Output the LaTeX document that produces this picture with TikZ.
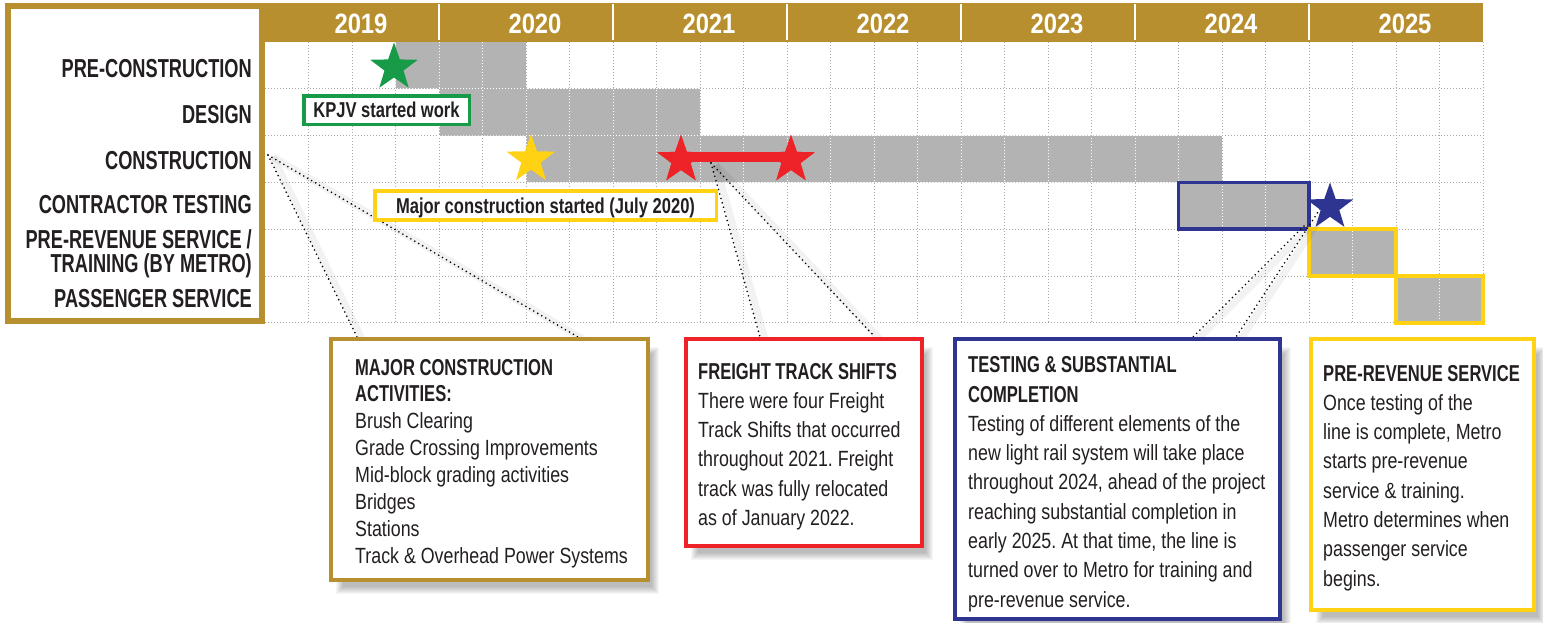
\documentclass[tikz,border=0pt]{standalone}
\usepackage{fontspec}
\setmainfont{Liberation Sans}
\newfontfamily\fA{Liberation Sans}[FakeStretch=0.72]
\newfontfamily\fR{Liberation Sans}[FakeStretch=0.70]
\newfontfamily\fY{Liberation Sans}[FakeStretch=0.85]
\newfontfamily\fK{Liberation Sans}[FakeStretch=0.77]
\newfontfamily\fB{Liberation Sans}[FakeStretch=0.81]
\frenchspacing
\usetikzlibrary{shapes.geometric,calc}
\definecolor{gold}{RGB}{184,143,46}
\definecolor{bargray}{RGB}{179,179,179}
\definecolor{gridgray}{RGB}{170,170,170}
\definecolor{kgreen}{RGB}{24,155,72}
\definecolor{kyellow}{RGB}{255,210,20}
\definecolor{kred}{RGB}{237,35,39}
\definecolor{kblue}{RGB}{46,52,146}
\definecolor{ink}{RGB}{35,31,32}
\newcommand\fuzzshadow[4]{%
  \foreach \k in {-4,...,3}{%
    \fill[black,opacity=0.035] ({#1+8-\k},{#2+11-\k}) rectangle ({#3+8+\k},{#4+11+\k});}}
\tikzset{
  rowlab/.style={anchor=base east, inner sep=0pt, text=ink, text height=19pt, text depth=0pt, font=\fR\bfseries\fontsize{26}{28}\selectfont},
  yearlab/.style={anchor=base, inner sep=0pt, text=white, font=\fY\bfseries\fontsize{28}{30}\selectfont},
  gridline/.style={draw=gridgray, line width=1pt, dash pattern=on 1pt off 2pt},
  gridwhite/.style={draw=white, line width=1pt, dash pattern=on 1pt off 2pt},
  starshape/.style={star, star points=5, star point ratio=2.5, inner sep=0pt, outer sep=0pt, draw=none},
  tagbox/.style={line width=3.5pt, fill=white, inner sep=0pt, text=ink, text height=15.4pt, text depth=0pt, font=\fK\bfseries\fontsize{21.5}{24}\selectfont},
  notebox/.style={line width=4pt, fill=white, inner sep=0pt},
  headtxt/.style={anchor=base west, inner sep=0pt, text=ink, font=\fA\bfseries\fontsize{23}{26}\selectfont},
  bodytxt/.style={anchor=base west, inner sep=0pt, text=ink, font=\fB\fontsize{22}{26}\selectfont},
  leaderline/.style={draw=black, line width=1.8pt, dash pattern=on 0pt off 4.6pt, line cap=round},
  leadershade/.style={draw=black, opacity=0.05, line width=7pt},
}
\begin{document}
\begin{tikzpicture}[x=1pt,y=-1pt]
\useasboundingbox (0,0) rectangle (1543,622);
\fill[white] (0,0) rectangle (1543,622);
\def\xo{265}\def\w{43.5}\def\yo{42}\def\h{46.8}
% bars
\fill[bargray] ({\xo+3*\w},{\yo}) rectangle ({\xo+6*\w},{\yo+\h});
\fill[bargray] ({\xo+4*\w},{\yo+\h}) rectangle ({\xo+10*\w},{\yo+2*\h});
\fill[bargray] ({\xo+6*\w},{\yo+2*\h}) rectangle ({\xo+22*\w},{\yo+3*\h});
\fill[bargray] ({\xo+21*\w},{\yo+3*\h}) rectangle ({\xo+24*\w},{\yo+4*\h});
\fill[bargray] ({\xo+24*\w},{\yo+4*\h}) rectangle ({\xo+26*\w},{\yo+5*\h});
\fill[bargray] ({\xo+26*\w},{\yo+5*\h}) rectangle ({\xo+28*\w},{\yo+6*\h});
% grid
\foreach \i in {1,...,28} \draw[gridline] ({\xo+\i*\w},\yo) -- ({\xo+\i*\w},{\yo+6*\h});
\foreach \j in {1,...,6} \draw[gridline] (\xo,{\yo+\j*\h}) -- ({\xo+28*\w},{\yo+\j*\h});
\begin{scope}
\clip ({\xo+3*\w},{\yo}) rectangle ({\xo+6*\w},{\yo+\h})
      ({\xo+4*\w},{\yo+\h}) rectangle ({\xo+10*\w},{\yo+2*\h})
      ({\xo+6*\w},{\yo+2*\h}) rectangle ({\xo+22*\w},{\yo+3*\h})
      ({\xo+21*\w},{\yo+3*\h}) rectangle ({\xo+24*\w},{\yo+4*\h})
      ({\xo+24*\w},{\yo+4*\h}) rectangle ({\xo+26*\w},{\yo+5*\h})
      ({\xo+26*\w},{\yo+5*\h}) rectangle ({\xo+28*\w},{\yo+6*\h});
\foreach \i in {1,...,28} \draw[gridwhite] ({\xo+\i*\w},\yo) -- ({\xo+\i*\w},{\yo+6*\h});
\foreach \j in {1,...,6} \draw[gridwhite] (\xo,{\yo+\j*\h}) -- ({\xo+28*\w},{\yo+\j*\h});
\end{scope}
% highlighted bar frames
\draw[kblue, line width=3.5pt] ({\xo+21*\w},{\yo+3*\h}) rectangle ({\xo+24*\w},{\yo+4*\h});
\draw[kyellow, line width=3.5pt] ({\xo+24*\w},{\yo+4*\h}) rectangle ({\xo+26*\w},{\yo+5*\h});
\draw[kyellow, line width=3.5pt] ({\xo+26*\w},{\yo+5*\h}) rectangle ({\xo+28*\w},{\yo+6*\h});
% header and label frame
\fill[gold] (262,3) rectangle ({\xo+28*\w},\yo);
\foreach \i in {1,...,6} \draw[white, line width=1.3pt] ({\xo+\i*4*\w},4) -- ({\xo+\i*4*\w},40);
\draw[gold, line width=6pt] (8,6) rectangle (262,321);
\foreach \yr [count=\i from 0] in {2019,2020,2021,2022,2023,2024,2025}
  \node[yearlab] (yr\yr) at ({\xo+\i*4*\w+2*\w+9},33.3) {\yr};
% row labels
\node[rowlab] (lpre) at (252,77) {PRE-CONSTRUCTION};
\node[rowlab] (ldes) at (252,123) {DESIGN};
\node[rowlab] (lcon) at (252,169) {CONSTRUCTION};
\node[rowlab] (ltst) at (252,213) {CONTRACTOR TESTING};
\node[rowlab] (lprv) at (252,248) {PRE-REVENUE SERVICE /};
\node[rowlab] (ltrn) at (252,272.5) {TRAINING (BY METRO)};
\node[rowlab] (lpas) at (252,307) {PASSENGER SERVICE};
% leader lines
\coordinate (cA) at (268,155);
\coordinate (gA) at (357,337);
\coordinate (gB) at (578,337);
\coordinate (rA) at (711,163);
\coordinate (rB) at (760,337);
\coordinate (rC) at (875,337);
\coordinate (bA) at (1304,226);
\coordinate (bB) at (1320,209);
\coordinate (bC) at (1193,337);
\coordinate (bD) at (1236,337);
\foreach \s/\e in {cA/gA,cA/gB,rA/rB,rA/rC,bA/bC,bB/bD}{
  \draw[leadershade] ($(\s)+(5,2)$) -- ($(\e)+(5,2)$);
  \draw[leaderline] (\s) -- (\e);}
% tag boxes
\node[tagbox, draw=kgreen, minimum width=165.5pt, minimum height=28.5pt] (kpjv) at (386.5,110) {KPJV started work};
\node[tagbox, draw=kyellow, minimum width=341.5pt, minimum height=29pt] (mcs) at (545.5,205.5) {Major construction started (July 2020)};
% stars and freight bar
\node[starshape, fill=kgreen, minimum size=50pt] (sg) at (394,67.5) {};
\node[starshape, fill=kyellow, minimum size=51pt] (sy) at (531,159.5) {};
\node[starshape, fill=kred, minimum size=50pt] (sr1) at (681,160) {};
\node[starshape, fill=kred, minimum size=50pt] (sr2) at (791,160) {};
\draw[kred, line width=10.5pt] ($(sr1.center)+(0,-3)$) -- ($(sr2.center)+(0,-3)$);
\node[starshape, fill=kred, minimum size=50pt] (sr1b) at (sr1.center) {};
\node[starshape, fill=kred, minimum size=50pt] (sr2b) at (sr2.center) {};
\node[starshape, fill=kblue, minimum size=49pt] (sb) at (1330,207) {};
% callout boxes
\fuzzshadow{331}{339}{648}{580}
\node[notebox, draw=gold, minimum width=317pt, minimum height=241pt] (cmc) at (489.5,459.5) {};
\fuzzshadow{686}{339}{922}{546}
\node[notebox, draw=kred, minimum width=236pt, minimum height=207pt] (cft) at (804,442.5) {};
\fuzzshadow{955}{339}{1280}{619}
\node[notebox, draw=kblue, minimum width=325pt, minimum height=280pt] (cts) at (1117.5,479) {};
\fuzzshadow{1311}{339}{1534}{610}
\node[notebox, draw=kyellow, minimum width=223pt, minimum height=271pt] (cpr) at (1422.5,474.5) {};
% callout texts
\node[headtxt] (gh1) at (355,375) {MAJOR CONSTRUCTION};
\node[headtxt] (gh2) at (355,401.9) {ACTIVITIES:};
\foreach \t [count=\i] in {Brush Clearing, Grade Crossing Improvements, Mid-block grading activities, Bridges, Stations, Track \& Overhead Power Systems}
  \node[bodytxt] (gb\i) at (355,{428.8+(\i-1)*26.9}) {\t};
\node[headtxt] (rh1) at (698,379) {FREIGHT TRACK SHIFTS};
\foreach \t [count=\i] in {There were four Freight, Track Shifts that occurred, throughout 2021. Freight, track was fully relocated, as of January 2022.}
  \node[bodytxt] (rb\i) at (698,{408.3+(\i-1)*29.3}) {\t};
\node[headtxt] (bh1) at (968,372.7) {TESTING \& SUBSTANTIAL};
\node[headtxt] (bh2) at (968,402) {COMPLETION};
\foreach \t [count=\i] in {Testing of different elements of the, new light rail system will take place, {throughout 2024, ahead of the project}, reaching substantial completion in, {early 2025. At that time, the line is}, turned over to Metro for training and, pre-revenue service.}
  \node[bodytxt] (bb\i) at (968,{431.3+(\i-1)*29.3}) {\t};
\node[headtxt] (yh1) at (1323,381) {PRE-REVENUE SERVICE};
\foreach \t [count=\i] in {Once testing of the, {line is complete, Metro}, starts pre-revenue, service \& training., Metro determines when, passenger service, begins.}
  \node[bodytxt] (yb\i) at (1323,{410.3+(\i-1)*29.3}) {\t};
\end{tikzpicture}
\end{document}
